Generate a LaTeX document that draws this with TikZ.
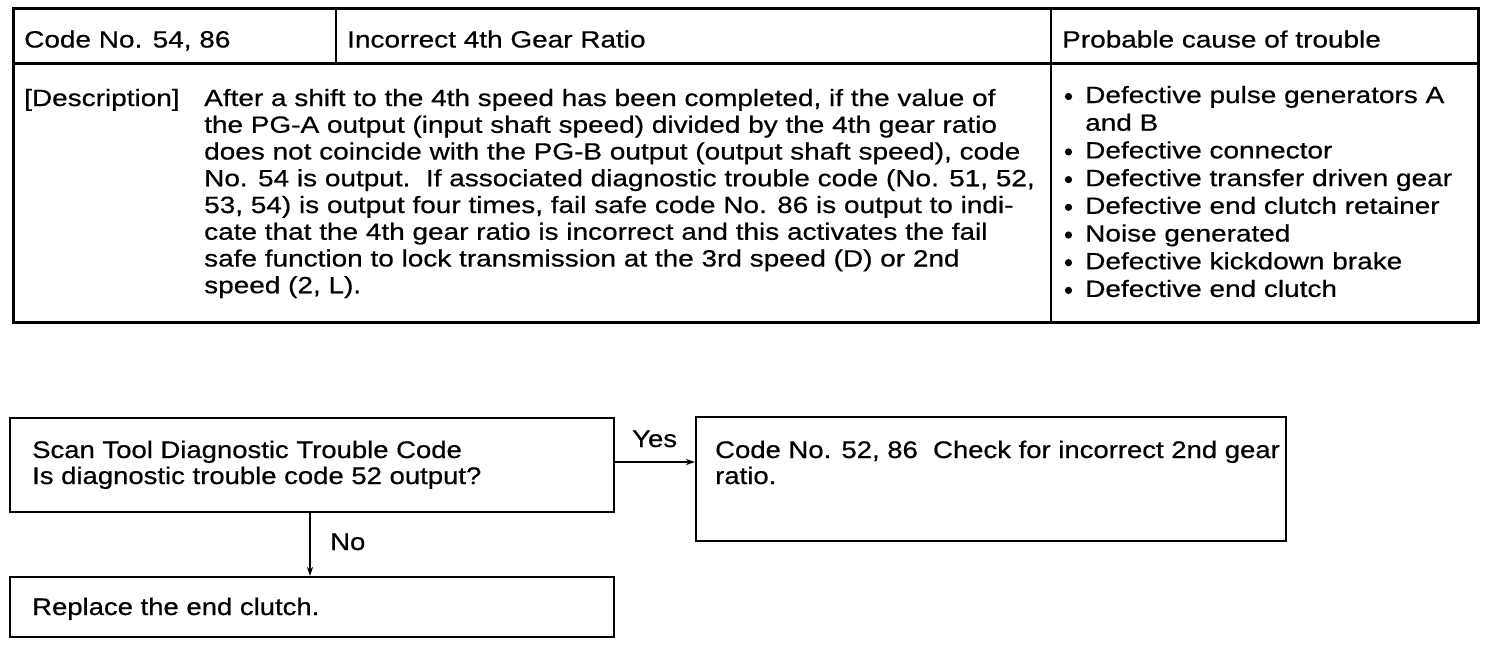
\documentclass[tikz,border=0pt]{standalone}
\usepackage{fontspec}
\setmainfont{Liberation Sans}
\newfontfamily\tabfont[FakeStretch=1.19,FakeBold=0.6]{Liberation Sans}
\newfontfamily\flowfont[FakeStretch=1.145,FakeBold=0.6]{Liberation Sans}
\usetikzlibrary{arrows.meta}
\begin{document}
\begin{tikzpicture}[x=1pt,y=-1pt,
  tabtext/.style={anchor=base west,inner sep=0pt,font=\tabfont\fontsize{23.5}{27}\selectfont},
  flowtext/.style={anchor=base west,inner sep=0pt,font=\flowfont\fontsize{24}{27}\selectfont},
  flowbox/.style={draw,line width=2pt,anchor=north west,inner sep=0pt},
  conn/.style={line width=2pt,-{Stealth[length=9pt,width=6pt]}}]
\useasboundingbox (0,0) rectangle (1504,654);
% ---- table ----
\draw[line width=3pt] (13,8) rectangle (1478,322);
\draw[line width=3pt] (13,63) -- (1478,63);
\draw[line width=1.2pt] (336,8) -- (336,63);
\draw[line width=1.6pt] (1051,8) -- (1051,322);
\node[tabtext] (h1) at (24,47.5) {Code No. 54, 86};
\node[tabtext] (h2) at (347,47.5) {Incorrect 4th Gear Ratio};
\node[tabtext] (h3) at (1062,47.5) {Probable cause of trouble};
\node[tabtext] (dl) at (24,106) {[Description]};
\foreach \t [count=\i from 0] in {%
  {After a shift to the 4th speed has been completed, if the value of},
  {the PG-A output (input shaft speed) divided by the 4th gear ratio},
  {does not coincide with the PG-B output (output shaft speed), code},
  {No. 54 is output.\ \ If associated diagnostic trouble code (No. 51, 52,},
  {53, 54) is output four times, fail safe code No. 86 is output to indi-},
  {cate that the 4th gear ratio is incorrect and this activates the fail},
  {safe function to lock transmission at the 3rd speed (D) or 2nd},
  {speed (2, L).}}
  \node[tabtext] (d\i) at (204,106+26.75*\i) {\t};
\foreach \t/\b [count=\i from 0] in {%
  {Defective pulse generators A}/1,
  {and B}/0,
  {Defective connector}/1,
  {Defective transfer driven gear}/1,
  {Defective end clutch retainer}/1,
  {Noise generated}/1,
  {Defective kickdown brake}/1,
  {Defective end clutch}/1}
{
  \node[tabtext] (c\i) at (1085,103+27.7*\i) {\t};
  \ifnum\b=1 \fill (1068.5,96.5+27.7*\i) circle (3.6pt);\fi
}
% ---- flowchart ----
\node[flowbox,minimum width=604pt,minimum height=94pt] (q1) at (9,417) {};
\node[flowbox,minimum width=590pt,minimum height=124pt] (r1) at (695,416) {};
\node[flowbox,minimum width=604pt,minimum height=60pt] (r2) at (9,576) {};
\node[flowtext] (q1a) at (32,458) {Scan Tool Diagnostic Trouble Code};
\node[flowtext] (q1b) at (32,484) {Is diagnostic trouble code 52 output?};
\node[flowtext] (r1a) at (715,458) {Code No. 52, 86\ \ Check for incorrect 2nd gear};
\node[flowtext] (r1b) at (715,484) {ratio.};
\node[flowtext] (r2a) at (32,615) {Replace the end clutch.};
\coordinate (yesS) at (q1.east |- 0,462);
\draw[conn] (yesS) -- (yesS -| r1.west);
\node[flowtext] (yes) at (632,447) {Yes};
\coordinate (noS) at (310,0 |- q1.south);
\draw[conn] (noS) -- (noS |- r2.north);
\node[flowtext] (no) at (330,550) {No};
\end{tikzpicture}
\end{document}
